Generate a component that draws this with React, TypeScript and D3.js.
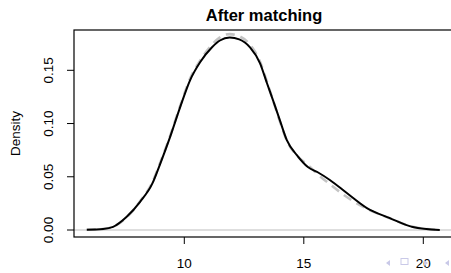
import React from "react";
import * as d3 from "d3";

const xTicks = [10, 15, 20];
const yTicks = [0, 0.05, 0.1, 0.15];
const yTickLabels = ["0.00", "0.05", "0.10", "0.15"];

const gridX = [5.92, 6.6, 7.02, 7.59, 8.15, 8.66, 8.98, 9.4, 9.82, 10.24, 10.66, 11.16, 11.49, 11.9, 12.3, 12.75, 13.17, 13.46, 13.71, 14.0, 14.29, 14.71, 15.17, 15.6, 16.09, 16.8, 17.64, 18.6, 19.56, 20.69];
const treatedY = [0.0003, 0.001, 0.003, 0.0125, 0.0265, 0.0435, 0.0615, 0.087, 0.115, 0.1406, 0.1575, 0.1716, 0.178, 0.1807, 0.179, 0.1715, 0.1566, 0.1378, 0.122, 0.103, 0.0844, 0.0703, 0.0591, 0.054, 0.047, 0.0347, 0.0206, 0.0112, 0.0028, 0.0];
const controlY = [0.0003, 0.001, 0.003, 0.012, 0.027, 0.0445, 0.0625, 0.088, 0.116, 0.142, 0.159, 0.174, 0.181, 0.184, 0.182, 0.174, 0.158, 0.139, 0.122, 0.102, 0.084, 0.07, 0.061, 0.052, 0.043, 0.031, 0.02, 0.011, 0.003, 0.0];

const W = 451;
const H = 273;
const FONT = "'Liberation Sans', Arial, Helvetica, sans-serif";

export default function App() {
  const x = d3.scaleLinear().domain([10, 20]).range([184.3, 423.3]);
  const y = d3.scaleLinear().domain([0, 0.15]).range([230, 70.3]);
  const box = { left: 74, top: 30, right: 456, bottom: 237 };

  const line = d3
    .line<[number, number]>()
    .x((d) => x(d[0]))
    .y((d) => y(d[1]))
    .curve(d3.curveMonotoneX);

  const treated = gridX.map((v, i) => [v, treatedY[i]] as [number, number]);
  const control = gridX.map((v, i) => [v, controlY[i]] as [number, number]);

  const nav = "#c9c9e8";

  return (
    <svg
      width={W}
      height={H}
      style={{ position: "absolute", left: 0, top: 0, background: "#fff" }}
      fontFamily={FONT}
    >
      <rect x={0} y={0} width={W} height={H} fill="#fff" />
      <text x={264} y={20.5} textAnchor="middle" fontSize={16.5} fontWeight="bold" fill="#000">
        After matching
      </text>

      {/* zero line */}
      <line x1={box.left} x2={W} y1={y(0)} y2={y(0)} stroke="#bebebe" strokeWidth={1.2} />

      {/* curves */}
      <path d={line(control) || ""} fill="none" stroke="#c4c4c4" strokeWidth={2.6} strokeDasharray="9,6" />
      <path d={line(treated) || ""} fill="none" stroke="#000" strokeWidth={2} />

      {/* box */}
      <rect
        x={box.left}
        y={box.top}
        width={box.right - box.left}
        height={box.bottom - box.top}
        fill="none"
        stroke="#000"
        strokeWidth={1.2}
      />

      {/* x axis */}
      {xTicks.map((t) => (
        <g key={t}>
          <line x1={x(t)} x2={x(t)} y1={box.bottom} y2={box.bottom + 7} stroke="#000" strokeWidth={1} />
          <text x={x(t)} y={268} textAnchor="middle" fontSize={13.5} fill="#000">
            {t}
          </text>
        </g>
      ))}

      {/* y axis */}
      {yTicks.map((t, i) => (
        <g key={t}>
          <line x1={box.left - 7} x2={box.left} y1={y(t)} y2={y(t)} stroke="#000" strokeWidth={1} />
          <text
            transform={`translate(53.3,${y(t)}) rotate(-90)`}
            textAnchor="middle"
            fontSize={13.5}
            fill="#000"
          >
            {yTickLabels[i]}
          </text>
        </g>
      ))}

      <text
        transform={`translate(19.5,${(box.top + box.bottom) / 2}) rotate(-90)`}
        textAnchor="middle"
        fontSize={13.5}
        fill="#000"
      >
        Density
      </text>

      {/* beamer navigation symbols */}
      <g fill={nav} stroke="none">
        <path d="M386,263 l4,-3 v6 z" />
        <rect x={401} y={258.5} width={7} height={6} fill="none" stroke={nav} strokeWidth={1} />
        <path d="M428,263 l-4,-3 v6 z" />
        <path d="M445,263 l4,-3 v6 z" />
      </g>
    </svg>
  );
}
